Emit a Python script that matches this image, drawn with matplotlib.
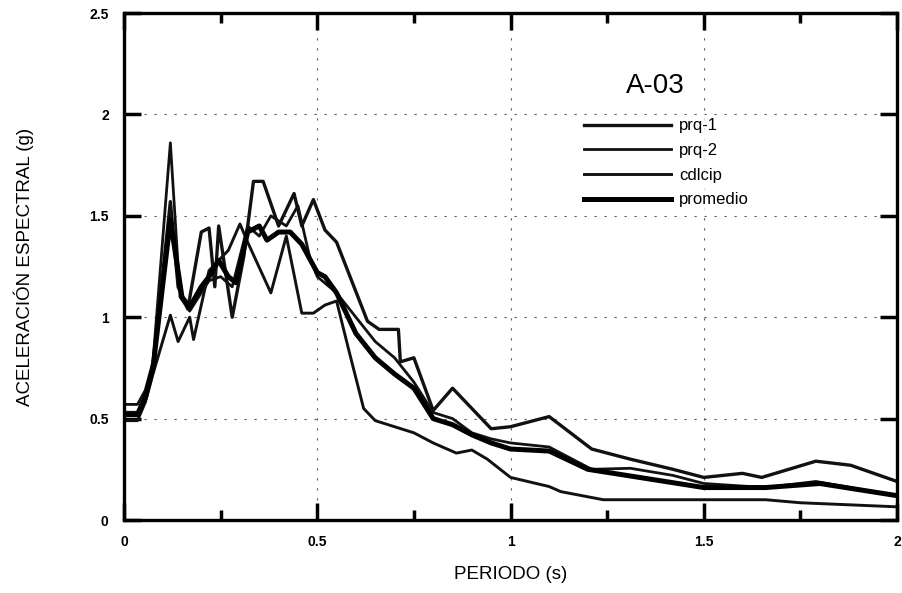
import matplotlib
matplotlib.use("Agg")
import matplotlib.pyplot as plt
from matplotlib.ticker import MultipleLocator

plt.rcParams['font.family'] = ['Liberation Sans', 'DejaVu Sans']

# espectros de respuesta, estacion A-03
prq1_t = [0.0, 0.035, 0.055, 0.075, 0.12, 0.14, 0.165, 0.20, 0.22, 0.235, 0.245,
          0.28, 0.31, 0.335, 0.36, 0.40, 0.44, 0.46, 0.49, 0.52, 0.55, 0.63, 0.66,
          0.71, 0.715, 0.75, 0.80, 0.85, 0.95, 1.0, 1.1, 1.21, 1.31, 1.42, 1.50,
          1.60, 1.65, 1.79, 1.88, 2.0]
prq1_sa = [0.53, 0.53, 0.62, 0.76, 1.57, 1.15, 1.04, 1.42, 1.44, 1.15, 1.45,
           1.00, 1.30, 1.67, 1.67, 1.45, 1.61, 1.45, 1.58, 1.43, 1.37, 0.98, 0.94,
           0.94, 0.78, 0.80, 0.54, 0.65, 0.45, 0.46, 0.51, 0.35, 0.30, 0.25, 0.21,
           0.23, 0.21, 0.29, 0.27, 0.19]

prq2_t = [0.0, 0.035, 0.055, 0.075, 0.12, 0.145, 0.17, 0.22, 0.25, 0.28, 0.32,
          0.35, 0.38, 0.42, 0.45, 0.48, 0.50, 0.55, 0.60, 0.65, 0.70, 0.75, 0.80,
          0.85, 0.90, 0.95, 1.0, 1.1, 1.21, 1.31, 1.42, 1.50, 1.66, 1.79, 2.0]
prq2_sa = [0.57, 0.57, 0.64, 0.78, 1.86, 1.10, 1.03, 1.18, 1.20, 1.15, 1.45,
           1.40, 1.50, 1.45, 1.55, 1.30, 1.20, 1.12, 1.00, 0.88, 0.80, 0.68, 0.53,
           0.50, 0.43, 0.40, 0.38, 0.36, 0.25, 0.255, 0.22, 0.18, 0.16, 0.19, 0.12]

cdlcip_t = [0.0, 0.035, 0.055, 0.075, 0.12, 0.14, 0.17, 0.18, 0.22, 0.27, 0.30,
            0.32, 0.38, 0.42, 0.46, 0.49, 0.52, 0.55, 0.58, 0.62, 0.65, 0.75, 0.80,
            0.86, 0.90, 0.94, 1.0, 1.1, 1.13, 1.24, 1.50, 1.66, 1.75, 2.0]
cdlcip_sa = [0.49, 0.49, 0.58, 0.72, 1.01, 0.88, 1.00, 0.89, 1.23, 1.33, 1.46,
             1.37, 1.12, 1.40, 1.02, 1.02, 1.06, 1.08, 0.85, 0.55, 0.49, 0.43, 0.38,
             0.33, 0.345, 0.30, 0.21, 0.165, 0.14, 0.10, 0.10, 0.10, 0.085, 0.065]

prom_t = [0.0, 0.035, 0.055, 0.075, 0.12, 0.15, 0.17, 0.20, 0.22, 0.245, 0.27,
          0.29, 0.32, 0.35, 0.37, 0.40, 0.43, 0.46, 0.50, 0.52, 0.55, 0.60, 0.65,
          0.70, 0.75, 0.80, 0.85, 0.90, 0.95, 1.0, 1.1, 1.2, 1.3, 1.4, 1.5, 1.66,
          1.8, 2.0]
prom_sa = [0.52, 0.52, 0.60, 0.75, 1.48, 1.10, 1.05, 1.15, 1.20, 1.28, 1.20,
           1.17, 1.42, 1.45, 1.38, 1.42, 1.42, 1.36, 1.22, 1.20, 1.12, 0.92, 0.80,
           0.72, 0.65, 0.50, 0.47, 0.42, 0.38, 0.35, 0.34, 0.25, 0.22, 0.19, 0.16,
           0.16, 0.18, 0.12]


def main():
    fig = plt.figure(figsize=(9.03, 5.93), dpi=100)
    ax = fig.add_axes([0.1373, 0.1231, 0.8561, 0.8549])

    ax.plot(prq1_t, prq1_sa, color='#111111', lw=2.4, label='prq-1')
    ax.plot(prq2_t, prq2_sa, color='#111111', lw=2.0, label='prq-2')
    ax.plot(cdlcip_t, cdlcip_sa, color='#111111', lw=2.1, label='cdlcip')
    ax.plot(prom_t, prom_sa, color='black', lw=3.6, label='promedio')

    ax.set_xlim(0, 2)
    ax.set_ylim(0, 2.5)
    ax.set_xticks([0, 0.5, 1, 1.5, 2])
    ax.set_xticklabels(['0', '0.5', '1', '1.5', '2'])
    ax.set_yticks([0, 0.5, 1, 1.5, 2, 2.5])
    ax.set_yticklabels(['0', '0.5', '1', '1.5', '2', '2.5'])
    ax.xaxis.set_minor_locator(MultipleLocator(0.25))

    ax.tick_params(which='major', direction='in', length=12, width=2.5,
                   top=True, right=True, pad=11, labelsize=10)
    ax.tick_params(which='minor', direction='in', length=7, width=2.5,
                   top=True, right=True)
    for lab in ax.get_xticklabels() + ax.get_yticklabels():
        lab.set_fontweight('bold')
    for sp in ax.spines.values():
        sp.set_linewidth(2.4)

    ax.grid(True, which='major', color='0.35', lw=0.8, linestyle=(0, (2, 7)))

    ax.set_xlabel('PERIODO (s)', fontsize=13.5, labelpad=12)
    ax.set_ylabel('ACELERACIÓN ESPECTRAL (g)', fontsize=13.5, labelpad=40)

    ax.text(1.375, 2.14, 'A-03', fontsize=20, ha='center', va='center')
    leg = ax.legend(loc='upper left', bbox_to_anchor=(0.58, 0.815),
                    frameon=True, fancybox=False, edgecolor='none',
                    fontsize=12, handlelength=5.2, labelspacing=0.58,
                    borderpad=0.2, handletextpad=0.5)
    leg.get_frame().set_facecolor('white')

    fig.savefig('out.png', dpi=100)


if __name__ == "__main__":
    main()
